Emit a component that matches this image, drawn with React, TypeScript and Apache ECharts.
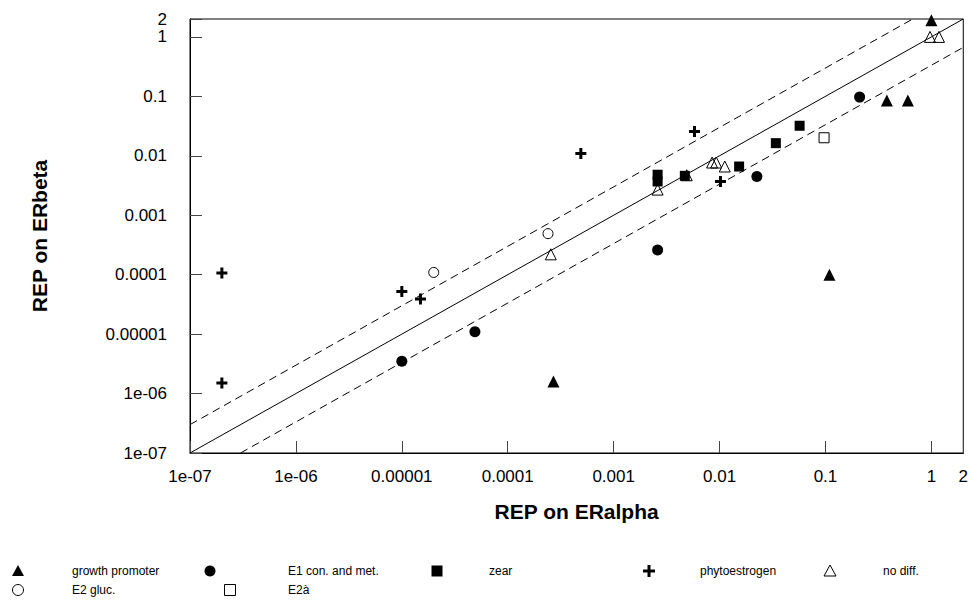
import React, { useEffect, useRef } from "react";
import * as echarts from "echarts";

// ---- data ----
const AXIS_MIN = 1e-7;
const AXIS_MAX = 2;
const REF_RATIOS = [1, 3, 1 / 3]; // y = ratio * x

const growthX = [2.7e-4, 0.109, 0.38, 0.6, 1.0];
const growthY = [1.6e-6, 1.0e-4, 0.085, 0.085, 1.9];

const e1X = [1.0e-5, 4.9e-5, 2.6e-3, 0.0225, 0.21];
const e1Y = [3.5e-6, 1.1e-5, 2.6e-4, 0.0045, 0.097];

const zearX = [0.0026, 0.0026, 0.0047, 0.0153, 0.034, 0.057];
const zearY = [0.0048, 0.0037, 0.0046, 0.0066, 0.0163, 0.032];

const phytoX = [2e-7, 2e-7, 1.0e-5, 1.5e-5, 4.9e-4, 0.0058, 0.0102];
const phytoY = [1.5e-6, 1.07e-4, 5.2e-5, 3.9e-5, 0.0109, 0.0255, 0.0037];

const noDiffX = [2.55e-4, 0.0026, 0.0049, 0.0085, 0.0093, 0.0112, 0.97, 1.18];
const noDiffY = [2.2e-4, 0.0027, 0.0047, 0.0077, 0.0077, 0.0066, 1.0, 1.0];

const e2glucX = [2.0e-5, 2.4e-4];
const e2glucY = [1.09e-4, 4.9e-4];

const e2aX = [0.097];
const e2aY = [0.0201];

const LEGEND_NAMES = [
  "growth promoter",
  "E1 con. and met.",
  "zear",
  "phytoestrogen",
  "no diff.",
  "E2 gluc.",
  "E2à",
];

const X_TITLE = "REP on ERalpha";
const Y_TITLE = "REP on ERbeta";

const PLUS_PATH = "path://M4,0H7V4H11V7H7V11H4V7H0V4H4Z";

const zip = (xs: number[], ys: number[]) => xs.map((x, i) => [x, ys[i]]);

const fmt = (v: number) => {
  if (v < 9e-6) return v.toExponential(0).replace(/e-(\d)$/, "e-0$1");
  return String(Number(v.toPrecision(6)));
};

const FONT = "'Liberation Sans', Arial, sans-serif";

export default function App() {
  const ref = useRef<HTMLDivElement>(null);
  useEffect(() => {
    if (!ref.current) return;
    const chart = echarts.init(ref.current, undefined, { renderer: "svg" });

    const filled = { color: "#000", borderWidth: 0, opacity: 1 };
    const open = { color: "rgba(255,255,255,0)", borderColor: "#000", borderWidth: 1, opacity: 1 };

    const scatterDefs = [
      { name: LEGEND_NAMES[0], data: zip(growthX, growthY), symbol: "triangle", size: 12, style: filled },
      { name: LEGEND_NAMES[1], data: zip(e1X, e1Y), symbol: "circle", size: 11, style: filled },
      { name: LEGEND_NAMES[2], data: zip(zearX, zearY), symbol: "rect", size: 10, style: filled },
      { name: LEGEND_NAMES[3], data: zip(phytoX, phytoY), symbol: PLUS_PATH, size: 11, style: filled },
      { name: LEGEND_NAMES[4], data: zip(noDiffX, noDiffY), symbol: "triangle", size: 11, style: open },
      { name: LEGEND_NAMES[5], data: zip(e2glucX, e2glucY), symbol: "circle", size: 10, style: open },
      { name: LEGEND_NAMES[6], data: zip(e2aX, e2aY), symbol: "rect", size: 10, style: open },
    ];

    const lineSeries = REF_RATIOS.map((r) => {
      const x0 = Math.max(AXIS_MIN, AXIS_MIN / r);
      const x1 = Math.min(AXIS_MAX, AXIS_MAX / r);
      return {
        type: "line",
        data: [
          [x0, r * x0],
          [x1, r * x1],
        ],
        symbol: "none",
        silent: true,
        z: 1,
        lineStyle: { color: "#000", width: 1, type: r === 1 ? "solid" : [8, 5] },
      };
    });

    // legend drawn as graphic items
    const legendPos = [
      { mx: 18, tx: 72, y: 571 },
      { mx: 210, tx: 288, y: 571 },
      { mx: 437, tx: 489, y: 571 },
      { mx: 649, tx: 700, y: 571 },
      { mx: 830, tx: 883, y: 571 },
      { mx: 18, tx: 72, y: 590 },
      { mx: 230, tx: 288, y: 590 },
    ];
    const legendGraphics: any[] = [];
    scatterDefs.forEach((s, i) => {
      const p = legendPos[i];
      const isOpen = s.style === open;
      const st = isOpen ? { fill: "none", stroke: "#000", lineWidth: 1 } : { fill: "#000" };
      const sym = s.symbol;
      if (sym === "triangle") {
        legendGraphics.push({
          type: "polygon",
          shape: { points: [[p.mx, p.y - 6], [p.mx + 6, p.y + 5], [p.mx - 6, p.y + 5]] },
          style: st,
        });
      } else if (sym === "circle") {
        legendGraphics.push({ type: "circle", shape: { cx: p.mx, cy: p.y, r: 5.5 }, style: st });
      } else if (sym === "rect") {
        legendGraphics.push({ type: "rect", shape: { x: p.mx - 5.5, y: p.y - 5.5, width: 11, height: 11 }, style: st });
      } else {
        legendGraphics.push({ type: "rect", shape: { x: p.mx - 6, y: p.y - 1.5, width: 12, height: 3 }, style: { fill: "#000" } });
        legendGraphics.push({ type: "rect", shape: { x: p.mx - 1.5, y: p.y - 6, width: 3, height: 12 }, style: { fill: "#000" } });
      }
      legendGraphics.push({
        type: "text",
        x: p.tx,
        y: p.y,
        style: { text: s.name, fill: "#000", font: `12px ${FONT}`, textVerticalAlign: "middle" },
      });
    });

    const axisCommon = {
      type: "log",
      logBase: 10,
      min: AXIS_MIN,
      max: AXIS_MAX,
      nameLocation: "middle",
      nameTextStyle: { fontFamily: FONT, fontWeight: "bold", fontSize: 21, color: "#000" },
      axisLine: { show: true, lineStyle: { color: "#000", width: 1 } },
      axisTick: { show: true, inside: true, length: 12, lineStyle: { color: "#444", width: 1 } },
      axisLabel: { fontFamily: FONT, fontSize: 17, color: "#000", formatter: fmt, showMaxLabel: true, showMinLabel: true },
      splitLine: { show: false },
      minorTick: { show: false },
    };

    chart.setOption({
      animation: false,
      backgroundColor: "#fff",
      grid: {
        left: 190,
        right: 5,
        top: 19,
        bottom: 148,
        show: true,
        borderColor: "#000",
        borderWidth: 1,
        containLabel: false,
      },
      xAxis: { ...axisCommon, name: X_TITLE, nameGap: 48, axisLabel: { ...axisCommon.axisLabel, margin: 15 } },
      yAxis: { ...axisCommon, name: Y_TITLE, nameGap: 140, axisLabel: { ...axisCommon.axisLabel, margin: 23 } },
      series: [
        ...lineSeries,
        ...scatterDefs.map((s) => ({
          type: "scatter",
          name: s.name,
          data: s.data,
          symbol: s.symbol,
          symbolSize: s.size,
          itemStyle: s.style,
          emphasis: { disabled: true },
          z: 3,
        })),
      ],
      graphic: legendGraphics,
    });

    return () => chart.dispose();
  }, []);

  return (
    <div
      ref={ref}
      style={{ position: "fixed", left: 0, top: 0, width: 971, height: 601, background: "#fff" }}
    />
  );
}
